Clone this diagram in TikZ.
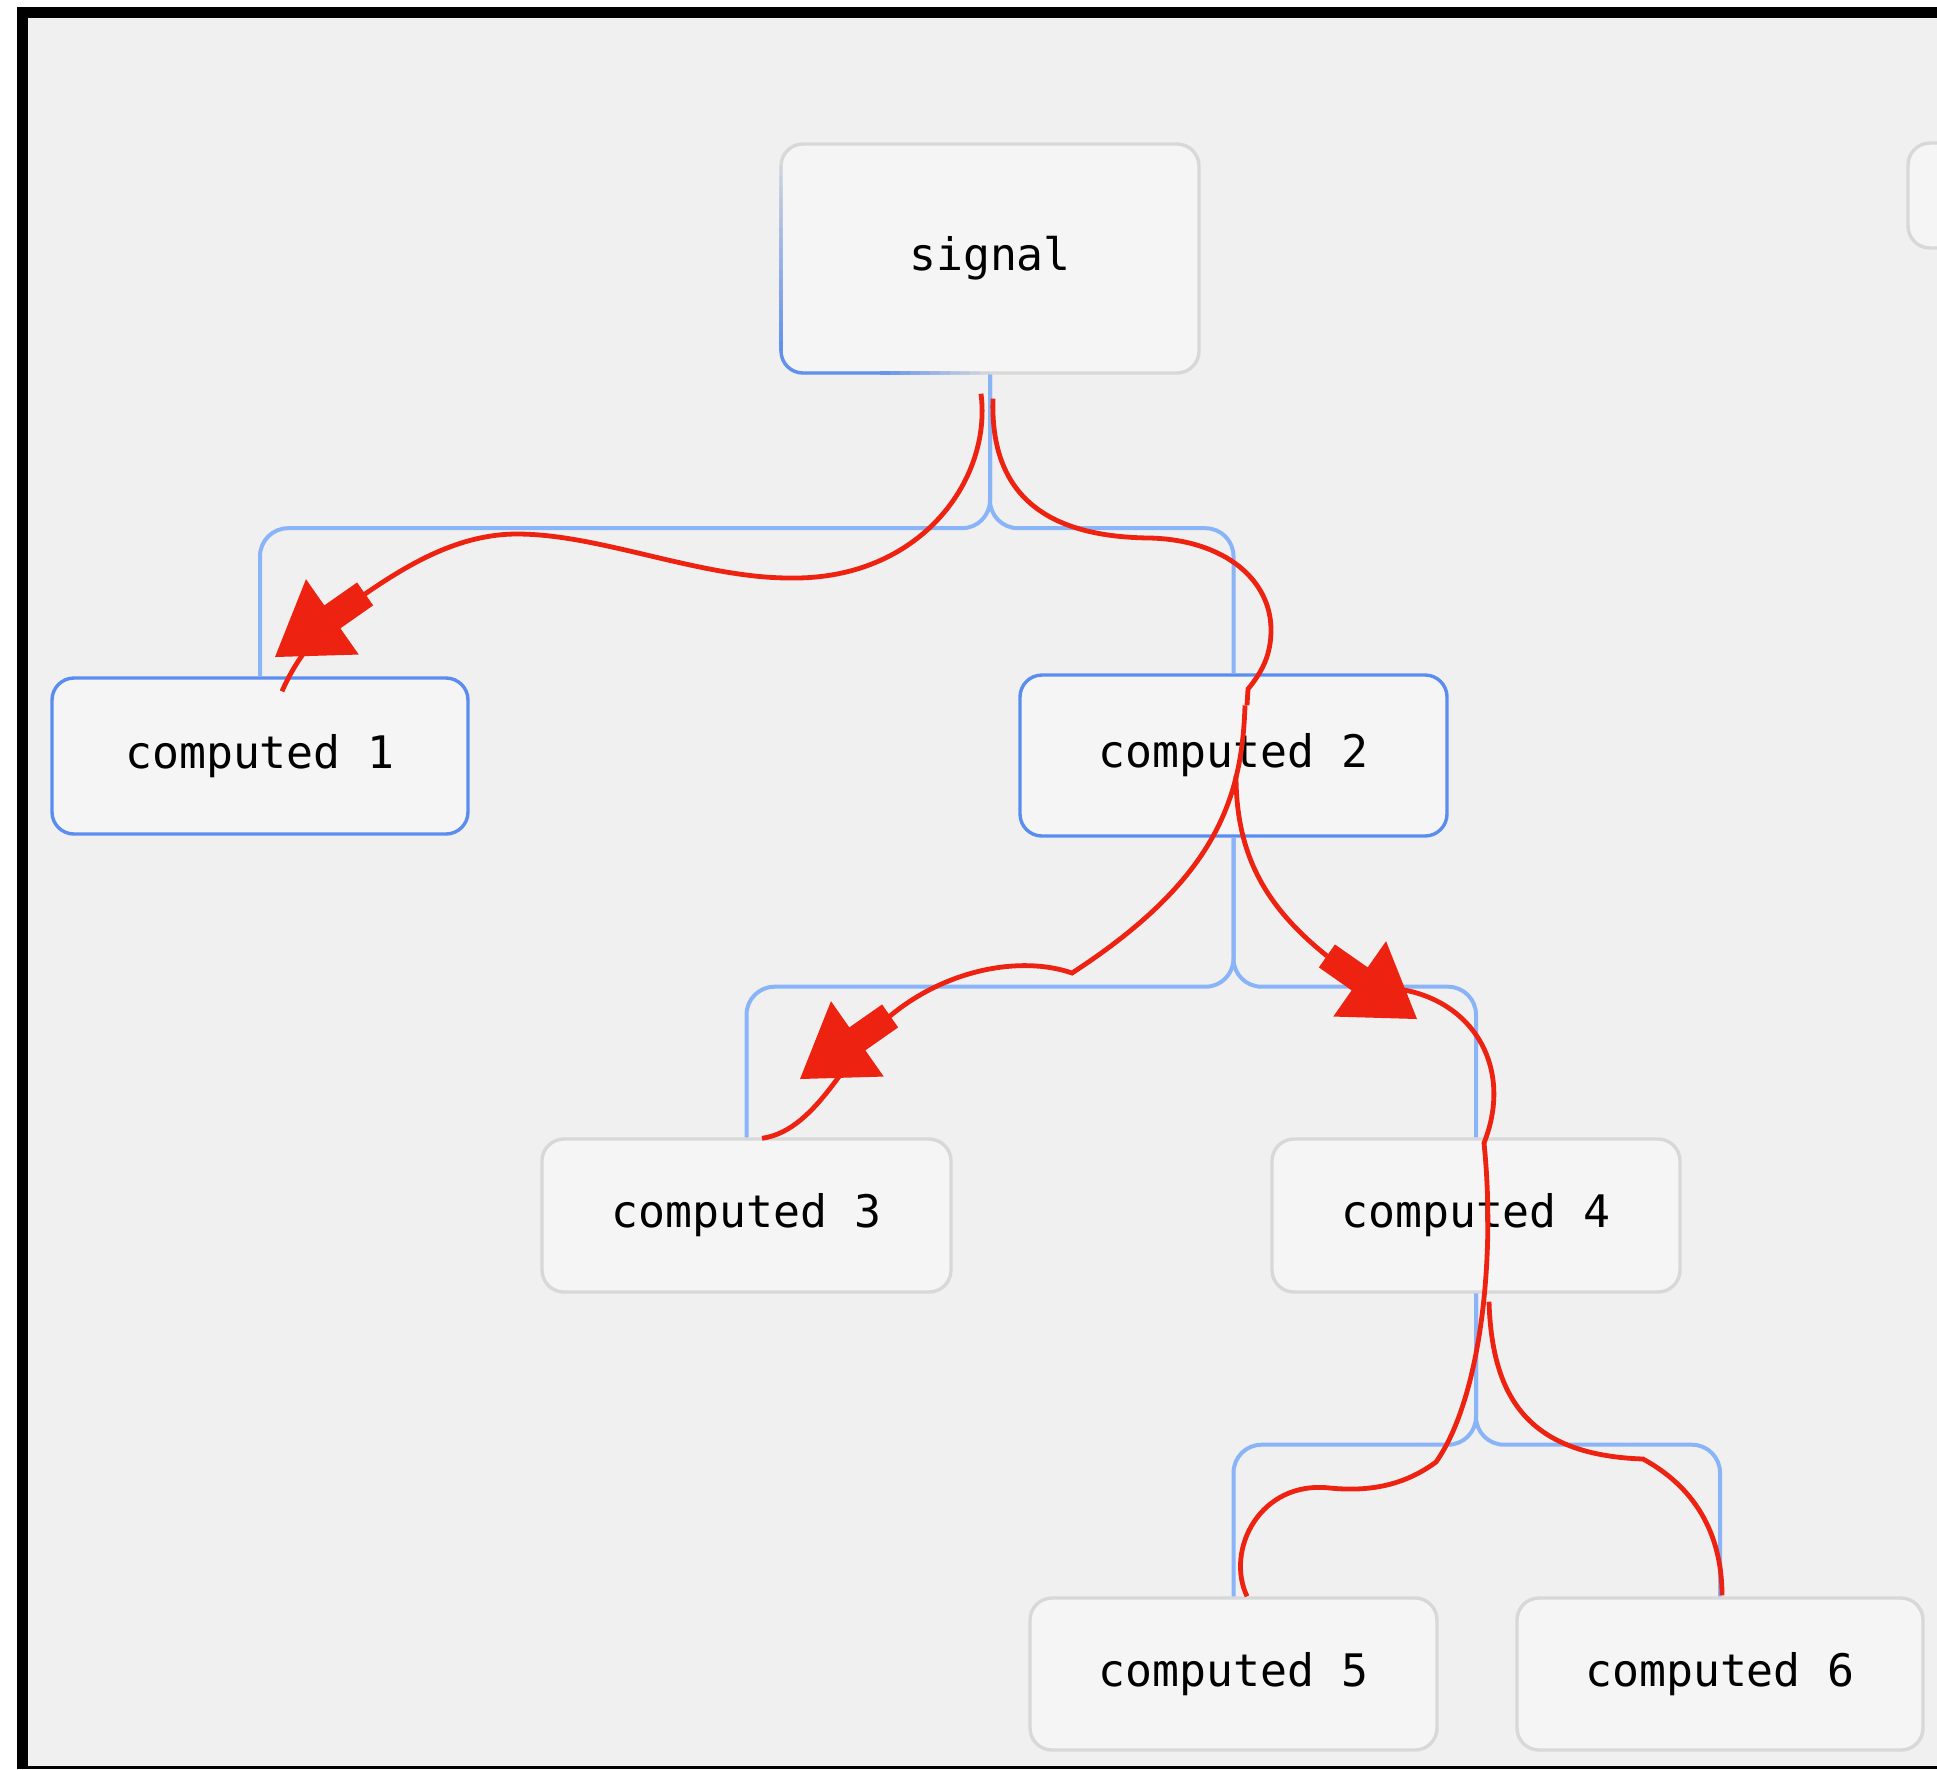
\documentclass[tikz,border=0pt]{standalone}
\usepackage{fontspec}
\newfontfamily\diagmono{DejaVu Sans Mono}
\usetikzlibrary{calc}

\definecolor{pagebg}{HTML}{F0F0F0}
\definecolor{boxfill}{HTML}{F5F5F5}
\definecolor{boxline}{HTML}{D8D8D8}
\definecolor{linkblue}{HTML}{8AB4F8}
\definecolor{activeblue}{HTML}{5B8DF0}
\definecolor{flowred}{HTML}{EE2211}

% block arrow head: #1 = tip, #2 = point at the back end of the shaft
\newcommand\drawflowhead[2]{%
  \path ($(#1)!35pt!(#2)$) coordinate (fh-base) ($(#1)!55pt!(#2)$) coordinate (fh-back);
  \fill[flowred] (#1) -- ($(fh-base)!23pt!90:(#1)$) -- ($(fh-base)!7pt!90:(#1)$)
    -- ($(fh-back)!7pt!90:(#1)$) -- ($(fh-back)!7pt!-90:(#1)$)
    -- ($(fh-base)!7pt!-90:(#1)$) -- ($(fh-base)!23pt!-90:(#1)$) -- cycle;
}

\begin{document}
\begin{tikzpicture}[x=0.5pt,y=-0.5pt,
  box/.style={draw=boxline, fill=boxfill, line width=1.7pt, rounded corners=11pt,
    inner sep=0pt, text=black, font=\diagmono\fontsize{22.4pt}{26pt}\selectfont},
  activebox/.style={box, draw=activeblue},
  link/.style={draw=linkblue, line width=2pt, rounded corners=14pt},
  flow/.style={draw=flowred, line width=2.4pt},
]
\useasboundingbox (0,0) rectangle (1937,1769);
\clip (0,0) rectangle (1937,1769);

% page and frame
\fill[white] (0,0) rectangle (1937,1769);
\fill[black] (17,7) rectangle (1937,1769);
\fill[pagebg] (28,18) rectangle (1937,1766);

% nodes
\node[box, minimum width=209pt, minimum height=114.5pt] (sig) at (990,258.5) {signal};
\node[activebox, minimum width=208pt, minimum height=78pt] (c1) at (260,756) {computed 1};
\node[activebox, minimum width=213.5pt, minimum height=80.5pt] (c2) at (1233.5,755.5) {computed 2};
\node[box, minimum width=204.5pt, minimum height=76.5pt] (c3) at (746.5,1215.5) {computed 3};
\node[box, minimum width=204pt, minimum height=76.5pt] (c4) at (1476,1215.5) {computed 4};
\node[box, minimum width=203.5pt, minimum height=76pt] (c5) at (1233.5,1674) {computed 5};
\node[box, minimum width=203pt, minimum height=76pt] (c6) at (1720,1674) {computed 6};
\node[box, minimum width=150pt, minimum height=52.5pt] (side) at (2058,195.5) {};

% highlighted edge of the signal box, fading out
\foreach \i [evaluate=\i as \op using 0.08+0.05*\i] in {0,...,17}
  \draw[activeblue, line width=1.7pt, draw opacity=\op]
    (781,{166+10.3*\i}) -- (781,{176.3+10.3*\i});
\draw[activeblue, line width=1.7pt, rounded corners=11pt, draw opacity=0.95]
  (781,351) -- (781,373) -- (880,373);
\foreach \i [evaluate=\i as \op using 0.9-0.085*\i] in {0,...,10}
  \draw[activeblue, line width=1.7pt, draw opacity=\op]
    ({880+10*\i},373) -- ({890+10*\i},373);

% tree links
\coordinate (bar1) at ($(sig.south)+(0,153.5)$);
\coordinate (bar2) at ($(c2.south)+(0,149)$);
\coordinate (bar3) at ($(c4.south)+(0,151)$);
\draw[link] (sig.south) -- (bar1) -| (c1.north);
\draw[link] (sig.south) -- (bar1) -| (c2.north);
\draw[link] (c2.south) -- (bar2) -| (c3.north);
\draw[link] (c2.south) -- (bar2) -| (c4.north);
\draw[link] (c4.south) -- (bar3) -| (c5.north);
\draw[link] (c4.south) -- (bar3) -| (c6.north);

% flow arrows
\coordinate (a1tip) at (275,657);  \coordinate (a1back) at (365,594);
\coordinate (a3tip) at (800,1079); \coordinate (a3back) at (890,1016);
\coordinate (a2tip) at (1417,1019); \coordinate (a2back) at (1327,956);

% signal -> computed 1
\draw[flow] ($(sig.south)+(-9,19)$) .. controls (992,480) and (920,580) .. (790,578)
  .. controls (700,578) and (600,534) .. (517,534)
  .. controls (460,534) and (410,563) .. (a1back)
  .. controls (330,618) and (300,650) .. ($(c1.north)+(22,15)$);
\drawflowhead{a1tip}{a1back}

% signal -> computed 2
\draw[flow] ($(sig.south)+(3,24)$) .. controls (990,490) and (1040,537) .. (1150,538)
  .. controls (1225,540) and (1271,580) .. (1271,630)
  .. controls (1271,655) and (1262,672) .. (1248,689) -- ($(c2.north)+(13.5,32)$);

% computed 2 -> computed 3
\draw[flow] ($(c2.north)+(11.5,32)$) .. controls (1242,800) and (1215,880) .. (1072,973)
  .. controls (1020,955) and (945,970) .. (a3back)
  .. controls (850,1045) and (820,1130) .. ($(c3.north)+(15.5,1)$);
\drawflowhead{a3tip}{a3back}

% computed 2 -> computed 4
\draw[flow] ($(c2.center)+(2.5,20)$) .. controls (1236,860) and (1270,910) .. (a2back);

% computed 4 -> computed 5
\draw[flow] ($(a2tip)+(-27,-31)$) .. controls (1470,995) and (1515,1065) .. (1484,1143)
  .. controls (1496,1260) and (1480,1400) .. (1436,1462)
  .. controls (1405,1485) and (1370,1492) .. (1330,1488)
  .. controls (1260,1480) and (1225,1550) .. ($(c5.north)+(13.5,0)$);
\drawflowhead{a2tip}{a2back}

% computed 4 -> computed 6
\draw[flow] ($(c4.south)+(13,8)$) .. controls (1492,1400) and (1530,1455) .. (1643,1459)
  .. controls (1700,1490) and (1722,1540) .. ($(c6.north)+(2,-1)$);
\end{tikzpicture}
\end{document}
